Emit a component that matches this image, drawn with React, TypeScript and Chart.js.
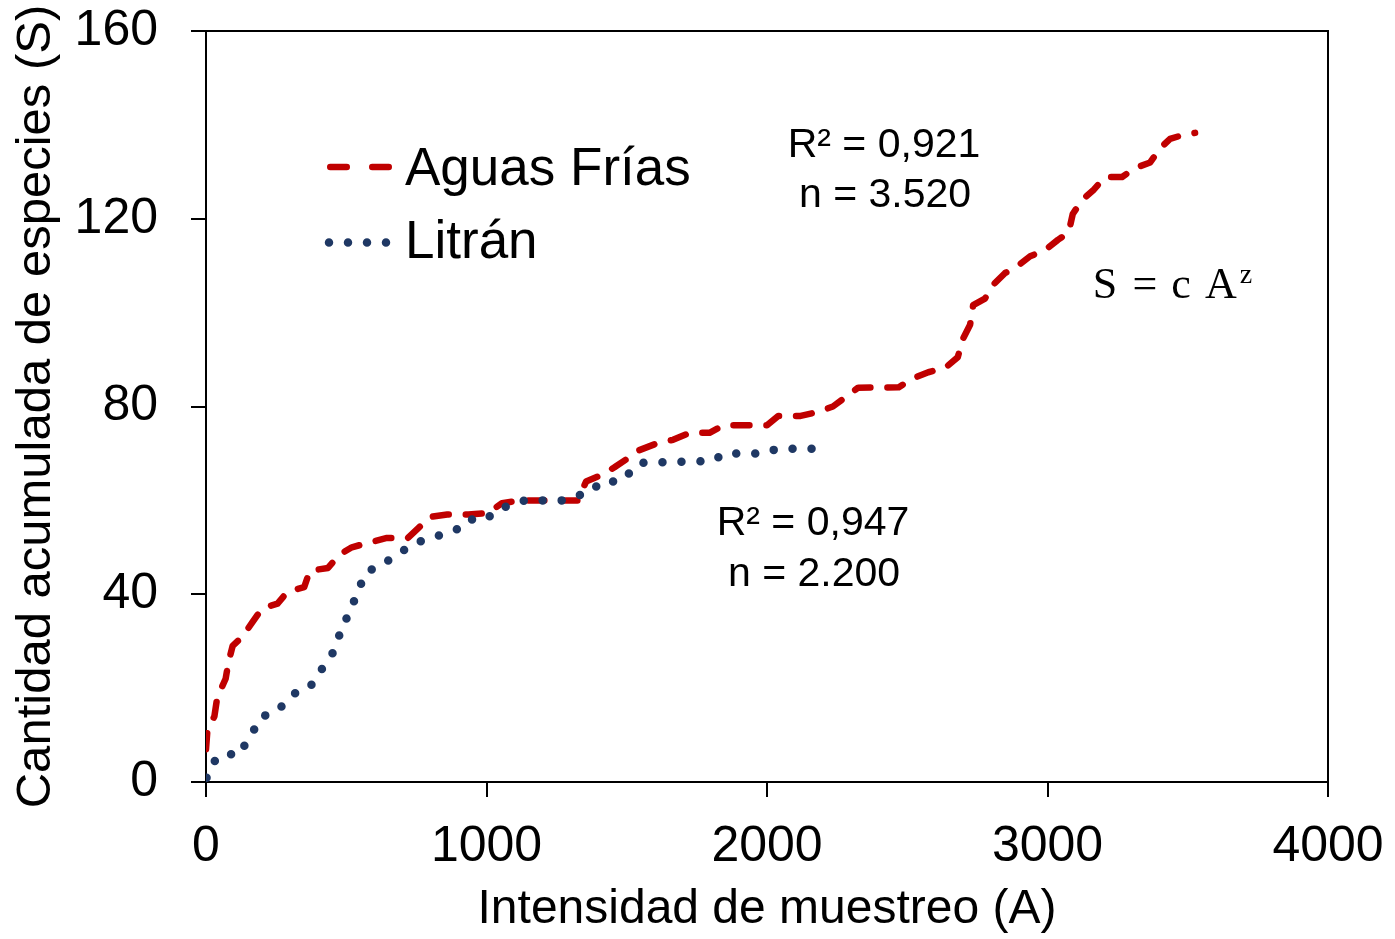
import React, { useEffect, useRef } from "react";
import { Chart, registerables } from "chart.js";

Chart.register(...registerables);

// ---- Data ----
const seriesNames = ["Aguas Frías", "Litrán"];

const aguasFriasX = [0, 5, 30, 40, 70, 80, 95, 130, 165, 200, 255, 290, 350, 370, 435, 475, 520, 580, 645, 720, 755, 800, 860, 935, 1005, 1055, 1120, 1325, 1355, 1410, 1455, 1505, 1545, 1610, 1665, 1725, 1795, 1845, 2000, 2040, 2120, 2180, 2235, 2280, 2325, 2470, 2520, 2575, 2635, 2680, 2700, 2724, 2735, 2777, 2806, 2848, 2895, 2938, 2991, 3037, 3075, 3090, 3123, 3162, 3205, 3266, 3312, 3366, 3401, 3437, 3490, 3526];
const aguasFriasY = [7, 11, 14, 18, 22, 25.5, 29, 31, 34, 37, 38, 40.5, 41.5, 45, 45.6, 48.4, 50, 51, 52, 52, 54, 56.5, 57, 57, 57.3, 59.4, 60, 60, 64, 65.4, 67, 69, 70.7, 72.2, 72.9, 74.4, 74.4, 76, 76, 78, 78, 78.8, 80, 82, 84, 84.1, 86, 87.3, 88.2, 90.5, 94.6, 97.4, 101.6, 103, 105.9, 108.4, 110, 112, 113.3, 115.5, 117, 121, 124, 126, 128.9, 128.9, 130.8, 132, 135, 137, 138, 138.3];

const litranX = [2, 20, 56, 124, 145, 172, 196, 248, 283, 317, 368, 395, 422, 450, 471, 484, 515, 530, 551, 573, 623, 661, 703, 745, 795, 846, 897, 932, 998, 1034, 1084, 1137, 1272, 1321, 1375, 1408, 1476, 1512, 1545, 1806, 1848, 1983, 2037, 2168];
const litranY = [0.9, 3.8, 5.9, 5.9, 8.9, 11.2, 13.9, 14.9, 16.9, 18.9, 20, 22.4, 24.9, 27.3, 30.2, 33.6, 35.9, 39, 42, 44.9, 46, 47.7, 49.3, 50.9, 51.9, 52.8, 53.9, 55.9, 55.9, 57.9, 59, 60, 60, 60.9, 61.9, 64, 64, 66, 68, 68.4, 70, 70, 71, 71];

const xTicks = [0, 1000, 2000, 3000, 4000];
const yTicks = [0, 40, 80, 120, 160];

const xTitle = "Intensidad de muestreo (A)";
const yTitle = "Cantidad acumulada de especies (S)";

const fitAguasFrias = ["R² = 0,921", "n = 3.520"];
const fitLitran = ["R² = 0,947", "n = 2.200"];
const modelGlyphs = ["S", "=", "c", "A"];
const modelExp = "z";

const RED = "#C00000";
const BLUE = "#1F3864";
const SANS = "'Liberation Sans', Arial, sans-serif";
const SERIF = "'Liberation Serif', 'Times New Roman', serif";

export default function App() {
  const ref = useRef<HTMLCanvasElement>(null);

  useEffect(() => {
    if (!ref.current) return;

    const decorations = {
      id: "decorations",
      afterDraw(chart: any) {
        const ctx = chart.ctx;
        const a = chart.chartArea;
        ctx.save();
        // frame top & right
        ctx.strokeStyle = "#000";
        ctx.lineWidth = 2;
        ctx.setLineDash([]);
        ctx.beginPath();
        ctx.moveTo(a.left, a.top);
        ctx.lineTo(a.right, a.top);
        ctx.lineTo(a.right, a.bottom);
        ctx.stroke();

        // legend
        ctx.lineCap = "round";
        ctx.strokeStyle = RED;
        ctx.lineWidth = 6.5;
        ctx.setLineDash([16.5, 25.5]);
        ctx.beginPath();
        ctx.moveTo(330.25, 167);
        ctx.lineTo(388.75, 167);
        ctx.stroke();

        ctx.strokeStyle = BLUE;
        ctx.lineWidth = 8.5;
        ctx.setLineDash([0, 19]);
        ctx.beginPath();
        ctx.moveTo(329, 242.5);
        ctx.lineTo(387, 242.5);
        ctx.stroke();
        ctx.setLineDash([]);

        ctx.fillStyle = "#000";
        ctx.textAlign = "left";
        ctx.textBaseline = "alphabetic";
        ctx.font = `53px ${SANS}`;
        ctx.fillText(seriesNames[0], 405, 185);
        ctx.fillText(seriesNames[1], 405, 258);

        // fit annotations
        ctx.font = `41px ${SANS}`;
        ctx.textAlign = "center";
        ctx.fillText(fitAguasFrias[0], 884, 157);
        ctx.fillText(fitAguasFrias[1], 885, 207);
        ctx.fillText(fitLitran[0], 813, 535);
        ctx.fillText(fitLitran[1], 814, 586);

        // model S = c A^z
        ctx.textAlign = "center";
        ctx.font = `44px ${SERIF}`;
        const gx = [1105, 1145, 1181, 1221];
        modelGlyphs.forEach((g, i) => ctx.fillText(g, gx[i], 298));
        ctx.font = `28px ${SERIF}`;
        ctx.fillText(modelExp, 1246, 292 - 9);
        ctx.restore();
      },
    };

    const tickFont = { family: SANS, size: 50 };
    const xTitleFont = { family: SANS, size: 48 };
    const yTitleFont = { family: SANS, size: 49 };
    const fmt = (v: any) => String(v);

    const chart = new Chart(ref.current, {
      type: "scatter",
      data: {
        datasets: [
          {
            label: seriesNames[0],
            data: aguasFriasX.map((x, i) => ({ x, y: aguasFriasY[i] })),
            showLine: true,
            borderColor: RED,
            backgroundColor: RED,
            borderWidth: 6.5,
            borderDash: [16, 17],
            borderCapStyle: "round",
            borderJoinStyle: "round",
            pointRadius: 0,
            tension: 0,
            order: 1,
          },
          {
            label: seriesNames[1],
            data: litranX.map((x, i) => ({ x, y: litranY[i] })),
            showLine: true,
            borderColor: BLUE,
            backgroundColor: BLUE,
            borderWidth: 8.5,
            borderDash: [0, 19],
            borderCapStyle: "round",
            borderJoinStyle: "round",
            pointRadius: 0,
            tension: 0,
            order: 0,
          },
        ],
      },
      options: {
        animation: false,
        responsive: false,
        maintainAspectRatio: false,
        layout: { padding: { top: 31, right: 67, left: 0, bottom: 0 } },
        plugins: {
          legend: { display: false },
          tooltip: { enabled: false },
        },
        scales: {
          x: {
            type: "linear",
            min: xTicks[0],
            max: xTicks[xTicks.length - 1],
            afterBuildTicks: (s: any) => {
              s.ticks = xTicks.map((v) => ({ value: v }));
            },
            afterFit: (s: any) => {
              s.height = 157;
              s.paddingLeft = 0;
              s.paddingRight = 0;
            },
            ticks: { font: tickFont, color: "#000", padding: 20, maxRotation: 0, autoSkip: false, callback: fmt },
            grid: { drawOnChartArea: false, drawTicks: true, tickLength: 15, color: "#000", lineWidth: 2 },
            border: { display: true, color: "#000", width: 2 },
            title: { display: true, text: xTitle, font: xTitleFont, color: "#000", padding: { top: 0, bottom: 0 } },
          },
          y: {
            type: "linear",
            min: yTicks[0],
            max: yTicks[yTicks.length - 1],
            afterBuildTicks: (s: any) => {
              s.ticks = yTicks.map((v) => ({ value: v }));
            },
            afterFit: (s: any) => {
              s.width = 206;
              s.paddingTop = 0;
              s.paddingBottom = 0;
            },
            ticks: { font: tickFont, color: "#000", padding: 33, autoSkip: false, callback: fmt },
            grid: { drawOnChartArea: false, drawTicks: true, tickLength: 15, color: "#000", lineWidth: 2 },
            border: { display: true, color: "#000", width: 2 },
            title: { display: true, text: yTitle, font: yTitleFont, color: "#000", padding: { top: 7, bottom: 0 } },
          },
        },
      },
      plugins: [decorations],
    } as any);

    return () => chart.destroy();
  }, []);

  return (
    <canvas
      ref={ref}
      width={1395}
      height={939}
      style={{ position: "absolute", left: 0, top: 0, width: 1395, height: 939, display: "block", background: "#fff" }}
    />
  );
}
